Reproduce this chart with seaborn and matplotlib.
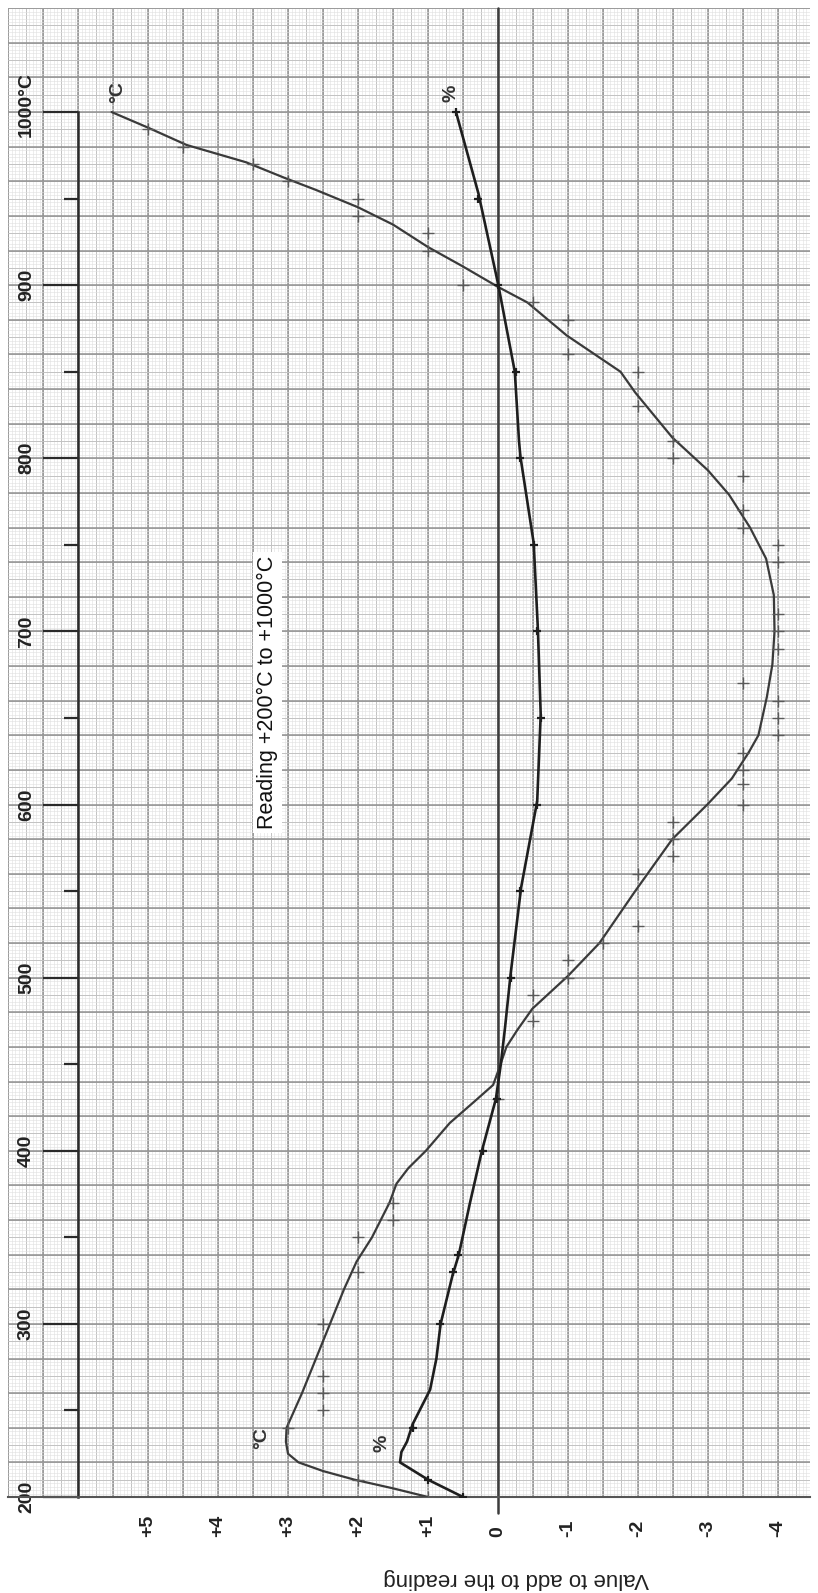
import numpy as np
import matplotlib
matplotlib.use("Agg")
import matplotlib.pyplot as plt
import matplotlib.transforms as mtrans
from matplotlib.ticker import FixedLocator
import seaborn as sns

sns.set_theme(style="white")
plt.rcParams['font.family'] = ['Liberation Sans', 'DejaVu Sans']

# ---------------- data ----------------
# °C correction curve (reading in °C, value to add)
degc_curve_T = [200, 205, 210, 215, 220, 225, 232, 240, 260, 280, 300, 320, 336, 350,
                370, 381, 390, 400, 416, 428, 438, 448, 460, 470, 482, 501, 520, 550,
                580, 600, 615, 630, 640, 662, 681, 700, 721, 742, 760, 779, 793, 812,
                838, 850, 871, 890, 899, 911, 922, 935, 945, 955, 962, 971, 981, 991, 1000]
degc_curve_v = [1.0, 1.5, 2.05, 2.5, 2.85, 3.0, 3.03, 3.02, 2.8, 2.6, 2.4, 2.2, 2.02, 1.8,
                1.55, 1.45, 1.28, 1.03, 0.69, 0.35, 0.07, -0.02, -0.12, -0.28, -0.49, -1.0, -1.45, -1.96,
                -2.49, -2.99, -3.34, -3.58, -3.72, -3.84, -3.92, -3.95, -3.94, -3.83, -3.6, -3.3, -3.0, -2.49,
                -1.96, -1.75, -0.98, -0.42, 0.0, 0.51, 1.0, 1.5, 2.0, 2.6, 3.05, 3.6, 4.45, 5.0, 5.52]
# °C measured points
degc_pts_T = [200, 210, 240, 250, 260, 270, 300, 330, 350, 360, 370, 430, 475, 490, 500, 510,
              520, 530, 560, 570, 580, 590, 600, 612, 620, 630, 640, 650, 660, 670, 690, 700,
              710, 740, 750, 760, 770, 790, 800, 810, 830, 850, 860, 880, 890, 900, 920, 930,
              940, 950, 960, 970, 980, 990]
degc_pts_v = [1.0, 2.0, 3.0, 2.5, 2.5, 2.5, 2.5, 2.0, 2.0, 1.5, 1.5, 0.0, -0.5, -0.5, -1.0, -1.0,
              -1.5, -2.0, -2.0, -2.5, -2.5, -2.5, -3.5, -3.5, -3.5, -3.5, -4.0, -4.0, -4.0, -3.5, -4.0, -4.0,
              -4.0, -4.0, -4.0, -3.5, -3.5, -3.5, -2.5, -2.5, -2.0, -2.0, -1.0, -1.0, -0.5, 0.5, 1.0, 1.0,
              2.0, 2.0, 3.0, 3.5, 4.5, 5.0]
# % correction curve
pct_curve_T = [200, 210, 220, 226, 232, 242, 262, 280, 300, 328, 340, 370, 400, 430, 450,
               471, 502, 552, 602, 652, 701, 751, 801, 810, 850, 901, 953, 1000]
pct_curve_v = [0.5, 1.0, 1.4, 1.38, 1.3, 1.22, 0.97, 0.88, 0.82, 0.65, 0.56, 0.4, 0.23, 0.03, -0.04,
               -0.1, -0.18, -0.33, -0.56, -0.61, -0.57, -0.51, -0.32, -0.3, -0.24, 0.0, 0.28, 0.6]
pct_pts_T = [200, 210, 240, 300, 330, 340, 400, 430, 500, 550, 600, 650, 700, 750, 800, 850, 900, 950, 1000]
pct_pts_v = [0.5, 1.0, 1.22, 0.83, 0.65, 0.57, 0.22, 0.02, -0.18, -0.32, -0.56, -0.61, -0.56, -0.51,
             -0.32, -0.25, 0.0, 0.28, 0.6]

temp_ticks = [200, 300, 400, 500, 600, 700, 800, 900, 1000]
temp_tick_labels = ["200", "300", "400", "500", "600", "700", "800", "900", "1000°C"]
temp_minor_ticks = [250, 350, 450, 550, 650, 750, 850, 950]
value_ticks = [5, 4, 3, 2, 1, 0, -1, -2, -3, -4]
value_tick_labels = ["+5", "+4", "+3", "+2", "+1", "0", "-1", "-2", "-3", "-4"]

# ---------------- figure ----------------
W, H = 818, 1593
fig = plt.figure(figsize=(W / 100, H / 100), dpi=100)
ax = fig.add_axes([8 / W, 96 / H, 802 / W, 1489 / H])
V_LEFT, V_RIGHT = 7.0, -4.457
T_BOT, T_TOP = 200, 1060.1
ax.set_xlim(V_LEFT, V_RIGHT)
ax.set_ylim(T_BOT, T_TOP)
ax.set_facecolor("white")

# graph paper
def grid_positions(lo, hi, step):
    n0 = int(np.ceil(lo / step - 1e-9)); n1 = int(np.floor(hi / step + 1e-9))
    return np.arange(n0, n1 + 1) * step

for step, col, lw in [(0.05, "#e0e0e0", 0.4), (0.25, "#c2c2c2", 0.7), (0.5, "#919191", 1.1)]:
    ax.vlines(grid_positions(V_RIGHT, V_LEFT, step), T_BOT, T_TOP, color=col, lw=lw, zorder=0)
for step, col, lw in [(2, "#e0e0e0", 0.4), (10, "#c2c2c2", 0.7), (20, "#919191", 1.1)]:
    ax.hlines(grid_positions(T_BOT, T_TOP, step), V_RIGHT, V_LEFT, color=col, lw=lw, zorder=0)

# zero line
ax.axvline(0, ymin=-0.011, ymax=1, color="#3c3c3c", lw=1.8, clip_on=False, zorder=1)

# curves
sns.lineplot(x=degc_curve_v, y=degc_curve_T, orient="y", sort=False, estimator=None,
             color="#3a3a3a", lw=1.6, ax=ax, zorder=3)
sns.lineplot(x=pct_curve_v, y=pct_curve_T, orient="y", sort=False, estimator=None,
             color="#1e1e1e", lw=1.9, ax=ax, zorder=3)
sns.scatterplot(x=degc_pts_v, y=degc_pts_T, marker="+", s=70, color="#5a5a5a",
                linewidth=1.0, ax=ax, zorder=4)
sns.scatterplot(x=pct_pts_v, y=pct_pts_T, marker="+", s=40, color="#1e1e1e",
                linewidth=1.6, ax=ax, zorder=4)

# axes / spines
for s in ["top", "right"]:
    ax.spines[s].set_visible(False)
ax.spines["left"].set_position(("data", 6.0))
ax.spines["left"].set_bounds(200, 1000)
ax.spines["left"].set_color("#2a2a2a")
ax.spines["left"].set_linewidth(1.8)
ax.spines["bottom"].set_color("#555555")
ax.spines["bottom"].set_linewidth(1.5)

ax.yaxis.set_major_locator(FixedLocator(temp_ticks))
ax.yaxis.set_minor_locator(FixedLocator(temp_minor_ticks))
ax.set_yticklabels(temp_tick_labels, rotation=90, va="center", fontsize=14, fontweight="bold",
                   color="#222222")
ax.tick_params(axis="y", which="major", direction="out", length=25, width=1.6,
               color="#2a2a2a", pad=6, left=True)
ax.tick_params(axis="y", which="minor", direction="out", length=10, width=1.6,
               color="#2a2a2a", left=True)
lab = ax.get_yticklabels()[-1]
lab.set_transform(lab.get_transform() + mtrans.ScaledTranslation(0, 7.5 / 100, fig.dpi_scale_trans))

ax.set_xticks(value_ticks)
ax.set_xticklabels(value_tick_labels, fontsize=14, fontweight="bold", color="#222222")
plt.setp(ax.get_xticklabels(), rotation=90, rotation_mode="anchor", ha="left", va="center")
ax.tick_params(axis="x", length=0, pad=29)

ax.set_xlabel("")
ax.set_ylabel("")

# texts
ax.text(0.633, -0.0544, "Value to add to the reading", transform=ax.transAxes,
        rotation=180, ha="center", va="center", fontsize=16, color="#222222")
ax.text(3.29, 664.6, "Reading +200°C to +1000°C", rotation=90, ha="center", va="center",
        fontsize=15.5, color="#111111",
        bbox=dict(facecolor="white", edgecolor="none", pad=3), zorder=5)
lbl = dict(rotation=90, ha="center", va="center", fontsize=14, fontweight="bold", color="#333333")
ax.text(5.43, 1011.6, "°C", **lbl)
ax.text(0.67, 1011, "%", **lbl)
ax.text(3.37, 234, "°C", **lbl)
ax.text(1.66, 231, "%", **lbl)

fig.savefig("out.png", dpi=100, facecolor="white")
